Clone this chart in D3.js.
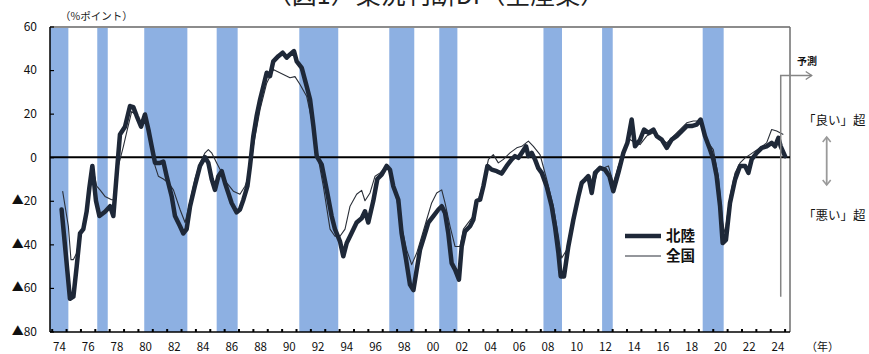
<!DOCTYPE html>
<html>
<head>
<meta charset="utf-8">
<script src="https://cdn.jsdelivr.net/npm/d3@7"></script>
<style>
  body { margin: 0; background: #fff; }
  svg { display: block; font-family: "Noto Sans CJK JP", "Noto Sans", sans-serif; }
</style>
</head>
<body>
<svg id="chart" width="869" height="354"></svg>
<script>
// 業況判断DI（全産業）: 北陸 and 全国, %ポイント, by survey date (decimal year)
const hokurikuYears = [
  1974.69, 1975.27, 1975.51, 1975.74, 1975.97, 1976.20, 1976.43, 1976.62, 1976.83, 1977.08,
  1977.32, 1977.71, 1978.06, 1978.29, 1978.57, 1978.75, 1979.10, 1979.45, 1979.68, 1979.91,
  1980.22, 1980.49, 1980.73, 1980.96, 1981.19, 1981.54, 1981.77, 1982.00, 1982.35, 1982.58,
  1982.93, 1983.16, 1983.39, 1983.63, 1983.97, 1984.32, 1984.67, 1984.90, 1985.13, 1985.36,
  1985.60, 1985.83, 1986.06, 1986.29, 1986.52, 1986.87, 1987.10, 1987.34, 1987.62, 1987.80,
  1988.03, 1988.26, 1988.50, 1988.73, 1988.96, 1989.19, 1989.42, 1989.77, 1990.07, 1990.35,
  1990.58, 1990.86, 1991.05, 1991.40, 1991.74, 1991.98, 1992.21, 1992.44, 1992.79, 1993.14,
  1993.48, 1993.71, 1994.06, 1994.29, 1994.53, 1994.87, 1995.22, 1995.57, 1995.80, 1996.03,
  1996.38, 1996.66, 1996.96, 1997.31, 1997.54, 1997.77, 1998.12, 1998.35, 1998.66, 1998.93,
  1999.17, 1999.40, 1999.63, 1999.98, 2000.21, 2000.56, 2000.91, 2001.14, 2001.37, 2001.60,
  2001.83, 2002.07, 2002.34, 2002.53, 2002.76, 2003.11, 2003.34, 2003.57, 2003.81, 2004.04,
  2004.32, 2004.62, 2004.97, 2005.31, 2005.66, 2006.01, 2006.24, 2006.47, 2006.71, 2007.01,
  2007.17, 2007.40, 2007.63, 2007.86, 2008.10, 2008.44, 2008.79, 2009.02, 2009.26, 2009.42,
  2009.65, 2009.95, 2010.30, 2010.65, 2010.88, 2011.11, 2011.34, 2011.58, 2011.81, 2012.16,
  2012.50, 2012.81, 2013.08, 2013.43, 2013.78, 2014.06, 2014.36, 2014.59, 2014.94, 2015.22,
  2015.52, 2015.87, 2016.10, 2016.45, 2016.80, 2017.14, 2017.49, 2017.84, 2018.19, 2018.53,
  2018.88, 2019.16, 2019.46, 2019.81, 2020.04, 2020.27, 2020.51, 2020.69, 2020.92, 2021.20,
  2021.55, 2021.90, 2022.25, 2022.48, 2022.71, 2023.06, 2023.41, 2023.75, 2024.10, 2024.33,
  2024.57, 2024.73, 2025.03
];
const hokurikuDI = [
  -24, -65, -64, -50, -35, -33, -25, -14, -4, -20,
  -27, -25, -22.5, -27, -4, 10.4, 14, 23.5, 23, 19,
  14, 19.6, 12.7, 5, -2.6, -2.6, -2, -8.7, -18, -27,
  -31.7, -35, -33, -22.5, -13, -4, 0, -2.6, -10, -15,
  -8.7, -6.4, -11.8, -16.4, -21, -25.3, -24, -19.5, -13.3, -4,
  9.7, 18.9, 26.5, 32.6, 38.8, 37.2, 44, 46.4, 48, 45.7,
  47.2, 48.7, 44, 41, 32.6, 26.5, 14.3, 0.5, -3.4, -15,
  -27, -33, -38.6, -45.5, -39.4, -34.8, -30, -28, -24.8, -30,
  -20, -10, -8, -4, -5.7, -13.3, -19.5, -35, -47, -58.5,
  -61, -51.6, -42.5, -35, -30, -27, -24, -22.5, -25.6, -35,
  -48.6, -51.6, -56.2, -41, -34, -31.7, -28.7, -20, -19.5, -13.3,
  -4, -5.7, -6.4, -7.5, -4, -1, 0.5, -0.3, 2, 5,
  0.5, 2, -1, -5, -7.2, -13.3, -22.5, -31.7, -44, -54.7,
  -54.7, -41, -28.7, -18, -11.8, -10.3, -8.7, -16.4, -7.2, -4.9,
  -5.7, -8.7, -15.6, -7.2, 2, 6.6, 17.3, 5, 8, 12.7,
  11.2, 12.7, 9.7, 8.1, 4.3, 8.1, 9.7, 12, 14.3, 14.3,
  15, 17.3, 9.7, 3.5, -1, -8.7, -22.5, -39.4, -37.9, -21,
  -10.3, -4, -4, -7.2, -1, 2, 4.3, 5, 6.6, 5,
  8.9, 5, 0.5
];
const zenkokuYears = [
  1974.76, 1975.16, 1975.34, 1975.51, 1975.74, 1975.97, 1976.20, 1976.43, 1976.83, 1977.13,
  1977.36, 1977.71, 1978.17, 1978.34, 1978.64, 1978.99, 1979.26, 1979.57, 1979.91, 1980.26,
  1980.49, 1980.84, 1981.19, 1981.42, 1981.77, 1982.12, 1982.47, 1982.93, 1983.28, 1983.63,
  1983.97, 1984.32, 1984.67, 1984.90, 1985.13, 1985.48, 1985.83, 1986.18, 1986.64, 1987.10,
  1987.45, 1987.80, 1988.03, 1988.50, 1988.96, 1989.42, 1989.66, 1990.12, 1990.58, 1990.93,
  1991.28, 1991.74, 1992.09, 1992.32, 1992.56, 1992.90, 1993.37, 1993.71, 1994.06, 1994.41,
  1994.76, 1995.22, 1995.57, 1995.80, 1996.15, 1996.50, 1996.85, 1997.31, 1997.66, 1998.01,
  1998.35, 1998.70, 1999.05, 1999.40, 1999.75, 2000.09, 2000.44, 2000.79, 2001.14, 2001.37,
  2001.72, 2002.07, 2002.41, 2002.65, 2002.99, 2003.34, 2003.69, 2004.04, 2004.39, 2004.73,
  2005.08, 2005.43, 2005.89, 2006.36, 2006.71, 2007.17, 2007.52, 2007.98, 2008.44, 2008.91,
  2009.26, 2009.49, 2009.84, 2010.30, 2010.76, 2011.11, 2011.46, 2011.69, 2012.04, 2012.39,
  2012.74, 2013.08, 2013.43, 2013.78, 2014.24, 2014.59, 2014.94, 2015.40, 2015.87, 2016.33,
  2016.80, 2017.26, 2017.72, 2018.19, 2018.65, 2019.00, 2019.35, 2019.69, 2020.04, 2020.39,
  2020.69, 2020.85, 2021.20, 2021.55, 2021.90, 2022.25, 2022.59, 2022.94, 2023.29, 2023.75,
  2024.10, 2024.45, 2024.91
];
const zenkokuDI = [
  -15.6, -31.7, -47, -47, -44, -35, -32.5, -23, -4, -13.3,
  -15, -18, -19.5, -19.5, -4, 5, 12.7, 21, 19, 13.5,
  19, 9.7, -4, -8.7, -10, -11.8, -15, -24, -30, -20,
  -10, -2.6, 2, 3.5, 2, -2.6, -7, -11.8, -15.6, -17,
  -13.3, -7, 5, 22, 34, 40.3, 39.5, 38, 36.5, 37,
  33.4, 28, 17.3, 9.7, -1, -13.3, -33, -36.3, -36.3, -33,
  -22.5, -17, -15.2, -20, -16.4, -8.7, -7.2, -4, -8.7, -19.5,
  -31.7, -42.5, -49.3, -44, -36.3, -28.7, -21, -16.4, -15, -21,
  -31.7, -41, -41, -33, -30, -27, -19.5, -11.8, -1, 1.2,
  -2.6, -1, 2, 4.3, 5, 7.4, 5, 1.2, -10, -22.5,
  -36.3, -46.3, -42.5, -28.7, -15, -10.3, -8.7, -13.3, -5.7, -4.9,
  -4, -11.8, -4, 2, 8.1, 6.6, 5.8, 9.7, 11.2, 8.9,
  6.6, 9.7, 12.7, 15.8, 16.6, 16.6, 12.7, 6.6, 3.5, -8.7,
  -30, -34.8, -18, -7.2, -2.6, -0.3, 1.2, 2.8, 4.3, 6.6,
  12.7, 12, 10.4
];
// 景気後退期 (shaded), start and end in decimal years
const recessionStart = [1973.83, 1977.17, 1980.44, 1985.48, 1991.23, 1997.49, 2000.97, 2008.22, 2012.30, 2019.30];
const recessionEnd   = [1975.16, 1977.90, 1983.44, 1986.94, 1993.94, 1999.23, 2002.23, 2009.51, 2013.04, 2020.76];
const yTicks = [60, 40, 20, 0, -20, -40, -60, -80];
const xLabelYears = d3.range(1974, 2025, 2);
const xTickLabels = ["74","76","78","80","82","84","86","88","90","92","94","96","98",
                     "00","02","04","06","08","10","12","14","16","18","20","22","24"];
const forecastYear = 2024.73;

const svg = d3.select("#chart");
const plot = { left: 50, right: 790, top: 27, bottom: 332 };

const x = d3.scaleLinear().domain([1974, 2025]).range([51.7, 784.6]);
const y = d3.scaleLinear().domain([-80, 60]).range([331.5, 26.5]);

// title (runs off the top edge of the page)
svg.append("text")
  .attr("x", 436).attr("y", 4)
  .attr("text-anchor", "middle")
  .attr("font-size", 25)
  .attr("fill", "#222")
  .text("（図1）業況判断DI（全産業）");

// unit label
svg.append("text")
  .attr("x", 60).attr("y", 20)
  .attr("font-size", 10.5)
  .attr("fill", "#222")
  .text("（%ポイント）");

svg.append("clipPath").attr("id", "plotClip")
  .append("rect")
  .attr("x", plot.left).attr("y", plot.top)
  .attr("width", plot.right - plot.left).attr("height", plot.bottom - plot.top);

// recession shading
svg.append("g").attr("clip-path", "url(#plotClip)")
  .selectAll("rect")
  .data(d3.zip(recessionStart, recessionEnd))
  .join("rect")
  .attr("x", d => x(d[0]))
  .attr("width", d => x(d[1]) - x(d[0]))
  .attr("y", plot.top)
  .attr("height", plot.bottom - plot.top)
  .attr("fill", "#8db0e2");

// frame: gray top and right, black left and bottom axes
svg.append("line")
  .attr("x1", plot.left).attr("x2", plot.right)
  .attr("y1", plot.top).attr("y2", plot.top)
  .attr("stroke", "#8c8c8c").attr("stroke-width", 2);
svg.append("line")
  .attr("x1", plot.right).attr("x2", plot.right)
  .attr("y1", plot.top).attr("y2", plot.bottom)
  .attr("stroke", "#6e6e6e").attr("stroke-width", 1.5);

// y axis
const yAxis = d3.axisLeft(y)
  .tickValues(yTicks)
  .tickSize(-4)
  .tickPadding(13)
  .tickFormat(d => d < 0 ? "▲" + (-d) : String(d));
const gy = svg.append("g")
  .attr("transform", `translate(${plot.left},0)`)
  .call(yAxis);
gy.select(".domain").remove();
gy.selectAll(".tick line").attr("stroke", "#000").attr("stroke-width", 1.2);
gy.selectAll(".tick text")
  .attr("font-family", "\"Noto Sans CJK JP\", sans-serif")
  .attr("font-size", 12)
  .attr("fill", "#111");

// x axis: yearly tick marks and labels every other year
const xTickAxis = d3.axisBottom(x)
  .tickValues(d3.range(1974, 2026))
  .tickSize(-3)
  .tickFormat("");
const gxt = svg.append("g")
  .attr("transform", `translate(0,${plot.bottom})`)
  .call(xTickAxis);
gxt.select(".domain").remove();
gxt.selectAll(".tick line").attr("stroke", "#000").attr("stroke-width", 2);

const xLabelAxis = d3.axisBottom(x)
  .tickValues(xLabelYears.map(v => v + 0.5))
  .tickSize(0)
  .tickPadding(11)
  .tickFormat((d, i) => xTickLabels[i]);
const gxl = svg.append("g")
  .attr("transform", `translate(0,${plot.bottom})`)
  .call(xLabelAxis);
gxl.select(".domain").remove();
gxl.selectAll(".tick text")
  .attr("font-family", "\"Noto Sans CJK JP\", sans-serif")
  .attr("font-size", 11.5)
  .attr("fill", "#111");

svg.append("text")
  .attr("x", 806).attr("y", 351)
  .attr("font-size", 11)
  .attr("fill", "#111")
  .text("（年）");

// axis lines
svg.append("line")
  .attr("x1", plot.left).attr("x2", plot.left)
  .attr("y1", plot.top).attr("y2", plot.bottom)
  .attr("stroke", "#000").attr("stroke-width", 1.5);
svg.append("line")
  .attr("x1", plot.left).attr("x2", plot.right)
  .attr("y1", plot.bottom).attr("y2", plot.bottom)
  .attr("stroke", "#000").attr("stroke-width", 1.5);

// zero line
svg.append("line")
  .attr("x1", plot.left).attr("x2", plot.right)
  .attr("y1", y(0)).attr("y2", y(0))
  .attr("stroke", "#000").attr("stroke-width", 2);

// series
const line = d3.line().x(d => x(d[0])).y(d => y(d[1]));
svg.append("path")
  .datum(d3.zip(zenkokuYears, zenkokuDI))
  .attr("d", line)
  .attr("fill", "none")
  .attr("stroke", "#2a2f38")
  .attr("stroke-width", 1.1)
  .attr("stroke-linejoin", "round");
svg.append("path")
  .datum(d3.zip(hokurikuYears, hokurikuDI))
  .attr("d", line)
  .attr("fill", "none")
  .attr("stroke", "#1e2838")
  .attr("stroke-width", 4.5)
  .attr("stroke-linejoin", "round")
  .attr("stroke-linecap", "round");

// legend
const legend = svg.append("g");
const legendItems = [
  { name: "北陸", width: 4.5, color: "#1e2838", y: 236 },
  { name: "全国", width: 1.1, color: "#2a2f38", y: 256 }
];
legend.selectAll("line").data(legendItems).join("line")
  .attr("x1", 625).attr("x2", 661)
  .attr("y1", d => d.y).attr("y2", d => d.y)
  .attr("stroke", d => d.color).attr("stroke-width", d => d.width);
legend.selectAll("text").data(legendItems).join("text")
  .attr("x", 666).attr("y", d => d.y)
  .attr("dy", "0.36em")
  .attr("font-size", 14.5)
  .attr("font-weight", "bold")
  .attr("fill", "#111")
  .text(d => d.name);

// forecast marker
const fx = x(forecastYear);
const arrowGray = "#858585";
svg.append("polyline")
  .attr("points", `${fx},${y(-64)} ${fx},${y(37.5)} ${fx + 31},${y(37.5)}`)
  .attr("fill", "none").attr("stroke", arrowGray).attr("stroke-width", 1.5);
svg.append("polyline")
  .attr("points", `${fx + 25},${y(37.5) - 4} ${fx + 31},${y(37.5)} ${fx + 25},${y(37.5) + 4}`)
  .attr("fill", "none").attr("stroke", arrowGray).attr("stroke-width", 1.3);
svg.append("text")
  .attr("x", 797).attr("y", 64.5)
  .attr("font-size", 10)
  .attr("font-weight", "bold")
  .attr("fill", "#111")
  .text("予測");

// 良い / 悪い annotation with a two-headed arrow
svg.append("text")
  .attr("x", 803).attr("y", 124.5)
  .attr("font-size", 12.5)
  .attr("fill", "#111")
  .text("「良い」超");
svg.append("text")
  .attr("x", 803).attr("y", 219.5)
  .attr("font-size", 12.5)
  .attr("fill", "#111")
  .text("「悪い」超");
const ax = 826.7;
svg.append("line")
  .attr("x1", ax).attr("x2", ax).attr("y1", 137).attr("y2", 185)
  .attr("stroke", "#9a9a9a").attr("stroke-width", 1.8);
svg.append("polyline")
  .attr("points", `${ax - 4},${142} ${ax},${137} ${ax + 4},${142}`)
  .attr("fill", "none").attr("stroke", "#9a9a9a").attr("stroke-width", 1.6);
svg.append("polyline")
  .attr("points", `${ax - 4},${180} ${ax},${185} ${ax + 4},${180}`)
  .attr("fill", "none").attr("stroke", "#9a9a9a").attr("stroke-width", 1.6);
</script>
</body>
</html>
